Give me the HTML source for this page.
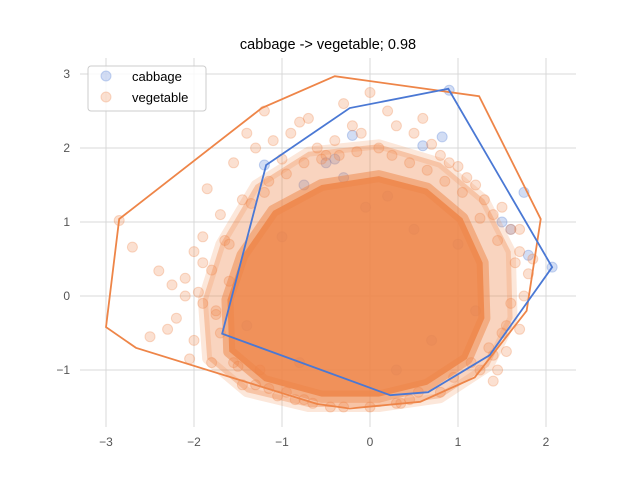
<!DOCTYPE html>
<html><head><meta charset="utf-8"><style>
html,body{margin:0;padding:0;background:#fff;}
svg{display:block;font-family:"Liberation Sans","DejaVu Sans",sans-serif;}
</style></head><body>
<svg id="chart" width="640" height="480">
<text x="328" y="49" text-anchor="middle" font-size="14.5" fill="#000">cabbage -&gt; vegetable; 0.98</text>
<g id="grid"></g>
<g id="ticks"></g>
<g id="marks"></g>
<g>
<rect x="88" y="66" width="118" height="45" rx="3" fill="#fff" fill-opacity="0.8" stroke="#ccc"/>
<circle cx="106" cy="76" r="5" fill="#4a78d4" fill-opacity="0.25" stroke="#4a78d4" stroke-opacity="0.3"/>
<text x="132" y="81" font-size="13">cabbage</text>
<circle cx="106" cy="97" r="5" fill="#ee8548" fill-opacity="0.25" stroke="#ee8548" stroke-opacity="0.3"/>
<text x="132" y="102" font-size="13">vegetable</text>
</g>
</svg>
<script>
const xTicks=[-3,-2,-1,0,1,2];
const yTicks=[-1,0,1,2,3];
const vegHull=[[-3.0,-0.42],[-2.85,1.04],[-1.23,2.54],[-0.4,2.97],[1.24,2.7],[1.94,1.04],[1.78,-0.2],[1.19,-1.1],[0.57,-1.43],[-0.23,-1.52],[-0.6,-1.46],[-2.66,-0.7]];
const cabHull=[[-1.68,-0.51],[-1.18,1.77],[-0.23,2.54],[0.89,2.8],[2.07,0.39],[1.36,-0.8],[0.66,-1.3],[0.23,-1.34]];
const vegHalo=[[-1.7,0.7],[-1.3,1.5],[-0.7,1.95],[0.1,2.05],[0.8,1.8],[1.3,1.3],[1.6,0.6],[1.62,-0.3],[1.35,-0.95],[0.8,-1.38],[0.1,-1.5],[-0.7,-1.5],[-1.4,-1.3],[-1.85,-0.85],[-1.9,-0.05]];
const vegBlob=[[-1.45,0.55],[-1.1,1.15],[-0.55,1.5],[0.1,1.62],[0.65,1.45],[1.05,1.05],[1.28,0.45],[1.3,-0.3],[1.1,-0.85],[0.65,-1.2],[0.1,-1.36],[-0.55,-1.36],[-1.2,-1.15],[-1.6,-0.75],[-1.62,-0.05]];
const vegX=[-2.85,-2.7,-2.4,-2.25,-2.1,-2.0,-1.9,-1.85,-1.7,-1.6,-1.55,-1.45,-1.4,-1.3,-1.2,-1.1,-1.0,-0.9,-0.8,-0.7,-0.6,-0.5,-0.4,-0.3,-0.2,-0.1,0.0,0.1,0.2,0.3,0.5,0.6,0.7,0.8,0.9,1.0,1.1,1.2,1.3,1.4,1.5,1.6,1.7,1.8,1.85,1.5,1.6,1.4,1.45,-2.2,-2.0,-1.8,-1.9,-1.7,-1.5,-1.3,-1.6,-1.2,-0.95,-0.85,-0.65,-0.3,0.35,0.45,0.55,0.95,1.15,1.35,1.55,1.7,-2.5,-2.3,-1.75,-1.05,-0.75,-0.45,0.0,0.3,0.8,1.25,-2.05,-1.95,-1.8,-1.65,-1.55,-1.35,-1.25,-1.15,-0.95,-0.75,-0.55,-0.35,-0.15,0.25,0.45,0.65,0.85,1.05,1.25,1.45,1.65,1.75,1.7,1.55,1.4,-1.9,-1.75,-2.1,-1.45,-1.15];
const vegY=[1.02,0.66,0.34,0.15,0.24,0.6,0.45,1.45,1.1,0.7,1.8,1.3,2.2,2.0,2.5,2.1,1.85,2.2,2.35,2.4,2.0,1.9,2.1,2.6,2.3,2.2,2.75,2.0,2.5,2.3,2.2,2.4,2.05,1.9,1.8,1.75,1.6,1.5,1.3,1.1,1.2,0.9,0.6,0.3,0.5,-0.5,-0.1,-0.8,-1.0,-0.3,-0.6,-0.9,-0.1,-0.5,-0.95,-1.2,0.2,1.4,-1.3,-1.4,-1.45,-1.5,-1.45,-1.4,-1.3,-1.1,-0.9,-0.7,-0.4,0.9,-0.55,-0.45,-0.25,-1.35,-1.4,-1.5,-1.5,-1.45,-1.3,-1.0,-0.85,0.05,0.35,0.75,-0.9,1.25,-1.0,1.55,1.65,1.8,1.85,1.9,1.95,1.9,1.8,1.7,1.55,1.4,1.05,0.75,0.45,0.0,-0.45,-0.75,-1.15,0.8,-0.2,0.0,-1.2,-1.25];
const cabX=[0.9,0.82,0.6,-0.2,-0.4,-0.75,-1.2,1.75,1.5,1.6,2.07,1.8,-0.05,0.2,-0.5,0.5,1.0,-1.0,-0.3,0.7,1.2,-1.4,0.3,-0.8];
const cabY=[2.78,2.15,2.03,2.17,1.85,1.5,1.77,1.4,1.0,0.9,0.39,0.55,1.2,1.35,1.8,0.9,0.7,0.8,1.6,-0.6,-0.2,-0.4,-1.0,-0.9];
const NS='http://www.w3.org/2000/svg';
const X=v=>370+88*v, Y=v=>296-74*v;
function mk(tag,attrs,parent){const e=document.createElementNS(NS,tag);for(const k in attrs)e.setAttribute(k,attrs[k]);parent.appendChild(e);return e;}
const grid=document.getElementById('grid'),ticks=document.getElementById('ticks'),marks=document.getElementById('marks');
xTicks.forEach(t=>{const l=mk('line',{x1:X(t),x2:X(t),y1:58,y2:427,stroke:'#d9d9d9','stroke-width':1},grid);


const tx=mk('text',{x:X(t),y:446,'text-anchor':'middle','font-size':12,fill:'#555'},ticks);tx.textContent=t<0?'\u2212'+(-t):t;

});
yTicks.forEach(t=>{const l=mk('line',{x1:80,x2:576,y1:Y(t),y2:Y(t),stroke:'#d9d9d9','stroke-width':1},grid);


const tx=mk('text',{x:70,y:Y(t)+4,'text-anchor':'end','font-size':12,fill:'#555'},ticks);tx.textContent=t<0?'\u2212'+(-t):t;

});
cabX.forEach((x,i)=>{const c=mk('circle',{cx:X(x),cy:Y(cabY[i]),r:5,fill:'#4a78d4','fill-opacity':0.25,stroke:'#4a78d4','stroke-opacity':0.3},marks);

});
const halo=mk('polygon',{points:vegHalo.map(p=>X(p[0])+','+Y(p[1])).join(' '),fill:'#ee8548','fill-opacity':0.35,stroke:'#ee8548','stroke-opacity':0.2,'stroke-width':10,'stroke-linejoin':'round'},marks);


const blob=mk('polygon',{points:vegBlob.map(p=>X(p[0])+','+Y(p[1])).join(' '),fill:'#ee8548','fill-opacity':0.85,stroke:'#ee8548','stroke-opacity':0.5,'stroke-width':12,'stroke-linejoin':'round'},marks);


vegX.forEach((x,i)=>{const c=mk('circle',{cx:X(x),cy:Y(vegY[i]),r:5,fill:'#ee8548','fill-opacity':0.25,stroke:'#ee8548','stroke-opacity':0.3},marks);

});
const vh=mk('polygon',{points:vegHull.map(p=>X(p[0])+','+Y(p[1])).join(' '),fill:'none',stroke:'#ee8548','stroke-width':1.8},marks);


const ch=mk('polygon',{points:cabHull.map(p=>X(p[0])+','+Y(p[1])).join(' '),fill:'none',stroke:'#4a78d4','stroke-width':1.8},marks);


</script>
</body></html>
